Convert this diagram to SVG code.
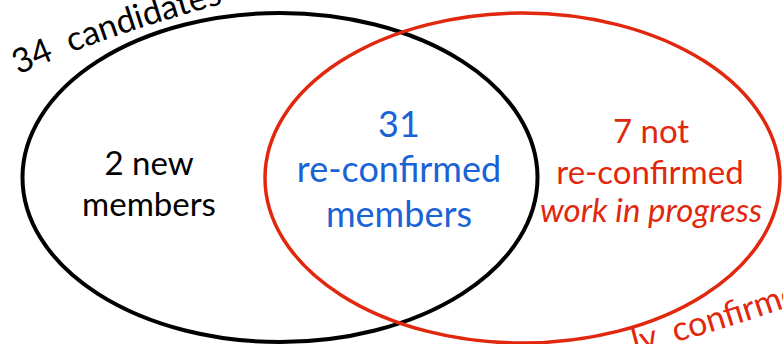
<svg xmlns="http://www.w3.org/2000/svg" width="783" height="344" viewBox="0 0 783 344">
<style>
text{font-family:Lato,"Open Sans","Liberation Sans",sans-serif;text-anchor:middle}
.k{fill:#000;font-size:33px}
.b{fill:#1a63d6;font-size:36px}
.r{fill:#e1280e;font-size:33px}
.ring{fill:none}
</style>
<defs>
<path id="arcTop" d="M 16 76 Q 110 32 260 -6"/>
<path id="arcBot" d="M 600 362 Q 700 338 800 303"/>
</defs>
<rect width="783" height="344" fill="#fff"/>
<g id="connectors"></g>
<g id="set-candidates">
<ellipse class="ring" cx="280" cy="177.5" rx="257.5" ry="164.5" stroke="#000" stroke-width="4"/>
<text class="k" style="text-anchor:start;font-size:34px" xml:space="preserve"><textPath href="#arcTop" startOffset="3">34  candidates</textPath></text>
<text class="k" x="149" y="175">2 new</text>
<text class="k" x="149" y="216">members</text>
</g>
<g id="set-confirmed">
<ellipse class="ring" cx="522.5" cy="178" rx="257.5" ry="165" stroke="#e1280e" stroke-width="3.5"/>
<text class="r" x="651" y="143">7 not</text>
<text class="r" x="650" y="184">re-confirmed</text>
<text class="r" x="651" y="222" font-style="italic">work in progress</text>
<text class="r" style="text-anchor:start;font-size:34px" xml:space="preserve"><textPath href="#arcBot" startOffset="36">ly  confirmed</textPath></text>
</g>
<g id="intersection">
<text class="b" x="399" y="137">31</text>
<text class="b" x="399" y="182">re-confirmed</text>
<text class="b" x="399" y="227">members</text>
</g>
</svg>
